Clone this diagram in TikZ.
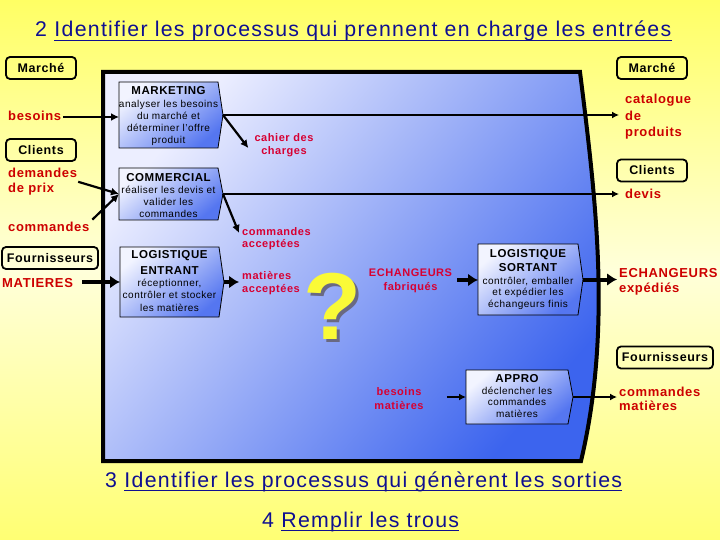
\documentclass[tikz,border=0pt]{standalone}
\usepackage{fontspec}
\setmainfont{Liberation Sans}
\newfontfamily\lsp[LetterSpace=5]{Liberation Sans}
\newfontfamily\ttlfont[LetterSpace=6]{Liberation Sans}
\usetikzlibrary{arrows.meta,calc}
\definecolor{bgY}{RGB}{255,255,100}
\definecolor{bgY2}{RGB}{255,255,115}
\definecolor{bgP}{RGB}{255,255,218}
\definecolor{titleblue}{RGB}{15,15,145}
\definecolor{outred}{RGB}{205,0,0}
\definecolor{inred}{RGB}{215,0,50}
\definecolor{contL}{RGB}{236,238,255}
\definecolor{contD}{RGB}{60,100,238}
\definecolor{boxL}{RGB}{242,244,255}
\definecolor{boxD}{RGB}{85,118,240}
\definecolor{qyel}{RGB}{250,250,55}
\definecolor{qsh}{RGB}{105,105,130}
\tikzset{
  outlab/.style={text=outred, font=\lsp\bfseries\fontsize{13}{15.5}\selectfont, align=left, inner sep=0pt},
  inlab/.style={text=inred, font=\lsp\bfseries\fontsize{11}{13.5}\selectfont, inner sep=0pt},
  tagbox/.style={draw=black, line width=1.8pt, rounded corners=4pt, font=\lsp\bfseries\fontsize{12.5}{14}\selectfont, minimum height=22pt, inner sep=0pt},
  head/.style={font=\lsp\bfseries\fontsize{11.5}{15.5}\selectfont, inner sep=0pt, anchor=north, align=center},
  desc/.style={font=\lsp\fontsize{10}{12}\selectfont, align=center, inner sep=0pt, anchor=north},
  procbox/.style={draw=black, line width=0.8pt, top color=boxL, bottom color=boxD, shading angle=40},
  thinarrow/.style={line width=1.5pt, -{Latex[length=7pt,width=7pt]}},
  midarrow/.style={line width=2.2pt, -{Latex[length=8pt,width=8pt]}},
  thickarrow/.style={line width=4pt, -{Latex[length=10pt,width=13pt]}},
  ttl/.style={text=titleblue, font=\ttlfont\fontsize{21.3}{24}\selectfont, inner sep=0pt, anchor=base west},
  uline/.style={titleblue, line width=1.8pt},
}
\newcommand\procshape[5]{%
  \shadedraw[procbox] (#2,#3) -- (#4,#3) -- ({#4+5},{(#3+#5)/2}) -- (#4,#5) -- (#2,#5) -- cycle;
  \coordinate (#1-tip) at ({#4+5},{(#3+#5)/2});
}
\begin{document}
\begin{tikzpicture}[x=1pt,y=-1pt]
\useasboundingbox (0,0) rectangle (720,540);
\shade[top color=bgY, bottom color=bgY2, middle color=bgP] (0,0) rectangle (720,540);

% container
\shadedraw[line width=4pt, top color=contL, bottom color=contD, shading angle=50]
  (103,72) -- (580,72) .. controls (596,200) and (612,330) .. (581,461) -- (103,461) -- cycle;

% titles
\node[ttl] (t2n) at (35,37) {2};
\node[ttl] (t2) at ($(t2n.base east)+(7,0)$) {Identifier les processus qui prennent en charge les entrées};
\draw[uline] ($(t2.base west)+(0,3.5)$) -- ($(t2.base east)+(0,3.5)$);
\node[ttl] (t3n) at (105,487) {3};
\node[ttl] (t3) at ($(t3n.base east)+(7,0)$) {Identifier les processus qui génèrent les sorties};
\draw[uline] ($(t3.base west)+(0,3.5)$) -- ($(t3.base east)+(0,3.5)$);
\node[ttl] (t4n) at (262,527) {4};
\node[ttl] (t4) at ($(t4n.base east)+(7,0)$) {Remplir les trous};
\draw[uline] ($(t4.base west)+(0,3.5)$) -- ($(t4.base east)+(0,3.5)$);

% tag boxes
\node[tagbox, minimum width=70pt] (marL) at (41,68) {Marché};
\node[tagbox, minimum width=70pt] (marR) at (652,68) {Marché};
\node[tagbox, minimum width=70pt] (cliL) at (41,150) {Clients};
\node[tagbox, minimum width=70pt] (cliR) at (652,170.5) {Clients};
\node[tagbox, minimum width=96pt] (fouL) at (50,258) {Fournisseurs};
\node[tagbox, minimum width=96pt] (fouR) at (665,357.5) {Fournisseurs};

% process boxes
\procshape{mk}{119}{82}{218}{148}
\procshape{cm}{119}{168}{218}{220}
\procshape{le}{120}{247}{219}{317}
\procshape{ls}{478}{244}{578}{315}
\procshape{ap}{466}{370}{568}{424}
\coordinate (mk-in) at (119,117);
\coordinate (cm-in) at (119,194);
\coordinate (le-in) at (120,282);
\coordinate (ls-in) at (478,280);
\coordinate (ap-in) at (466,397);

\node[head] (mk) at (168.5,86.5) {MARKETING};
\node[desc] (mk-d) at (168.5,99.6) {analyser les besoins\\du marché et\\déterminer l’offre\\produit};
\node[head] (cm) at (168.5,173) {COMMERCIAL};
\node[desc] (cm-d) at (168.5,185.6) {réaliser les devis et\\valider les\\commandes};
\node[head, font=\lsp\bfseries\fontsize{11.5}{16}\selectfont] (le) at (169.5,250) {LOGISTIQUE\\ENTRANT};
\node[desc, font=\lsp\fontsize{10}{12.5}\selectfont] (le-d) at (169.5,278.6) {réceptionner,\\contrôler et stocker\\les matières};
\node[head, font=\lsp\bfseries\fontsize{11.5}{14}\selectfont] (ls) at (528,248.8) {LOGISTIQUE\\SORTANT};
\node[desc, font=\lsp\fontsize{10}{11.5}\selectfont] (ls-d) at (528,276.6) {contrôler, emballer\\et expédier les\\échangeurs finis};
\node[head] (ap) at (517,373.8) {APPRO};
\node[desc, font=\lsp\fontsize{10}{11.5}\selectfont] (ap-d) at (517,386.6) {déclencher les\\commandes\\matières};

% outside labels
\node[outlab, anchor=base west] (besL) at (8,120.5) {besoins};
\node[outlab, anchor=north west] (demL) at (8,167.5) {demandes\\de prix};
\node[outlab, anchor=base west] (cmdL) at (8,232) {commandes};
\node[outlab, anchor=base west] (matL) at (2,287) {MATIERES};
\node[outlab, anchor=north west, font=\lsp\bfseries\fontsize{13}{16.7}\selectfont] (catR) at (625,93.8) {catalogue\\de\\produits};
\node[outlab, anchor=base west] (devR) at (625,199) {devis};
\node[outlab, anchor=north west] (echR) at (619,268) {ECHANGEURS\\expédiés};
\node[outlab, anchor=north west, font=\lsp\bfseries\fontsize{13}{14.5}\selectfont] (cmdR) at (619,386.5) {commandes\\matières};

% inside labels
\node[inlab, anchor=north, align=center] (cahI) at (284,133) {cahier des\\charges};
\node[inlab, anchor=north west, align=left, font=\lsp\bfseries\fontsize{11}{12.5}\selectfont] (cacI) at (242,227) {commandes\\acceptées};
\node[inlab, anchor=north west, align=left, font=\lsp\bfseries\fontsize{11}{13}\selectfont] (macI) at (242,271) {matières\\acceptées};
\node[inlab, anchor=north, align=center, font=\lsp\bfseries\fontsize{11}{14}\selectfont] (efI) at (410.5,269) {ECHANGEURS\\fabriqués};
\node[inlab, anchor=north, align=center, font=\lsp\bfseries\fontsize{11}{14}\selectfont] (bmI) at (399,387) {besoins\\matières};

% question mark with its shadow
\node[text=qsh, font=\bfseries\fontsize{95}{95}\selectfont, inner sep=0pt] (qs) at (336,309) {?};
\node[text=qyel, font=\bfseries\fontsize{95}{95}\selectfont, inner sep=0pt] (q) at (333,306) {?};

% connectors
\draw[midarrow, shorten <=2pt] (besL.east |- mk-in) -- (mk-in);
\draw[thinarrow, shorten >=6pt] (mk-tip) -- (mk-tip -| catR.west);
\draw[midarrow] (mk-tip) -- ($(cahI.west)+(-6,3)$);
\draw[thinarrow, shorten >=6pt] (cm-tip) -- (cm-tip -| devR.west);
\draw[midarrow] (cm-tip) -- ($(cacI.north west)+(-3,6)$);
\draw[midarrow, shorten <=1pt] (demL.east) -- (cm-in);
\draw[midarrow, shorten <=4pt] (cmdL.north east) -- (cm-in);
\draw[thickarrow, shorten <=9pt] (matL.east |- le-in) -- (le-in);
\draw[thickarrow, shorten >=3pt] (le-tip) -- (le-tip -| macI.west);
\draw[thickarrow, shorten <=5pt] (efI.east |- ls-in) -- (ls-in);
\draw[thickarrow, shorten >=2pt] (ls-tip) -- (ls-tip -| echR.west);
\draw[thinarrow, shorten <=23pt] (bmI.east |- ap-in) -- (ap-in);
\draw[thinarrow, shorten >=2pt] (ap-tip) -- (ap-tip -| cmdR.west);
\end{tikzpicture}
\end{document}
